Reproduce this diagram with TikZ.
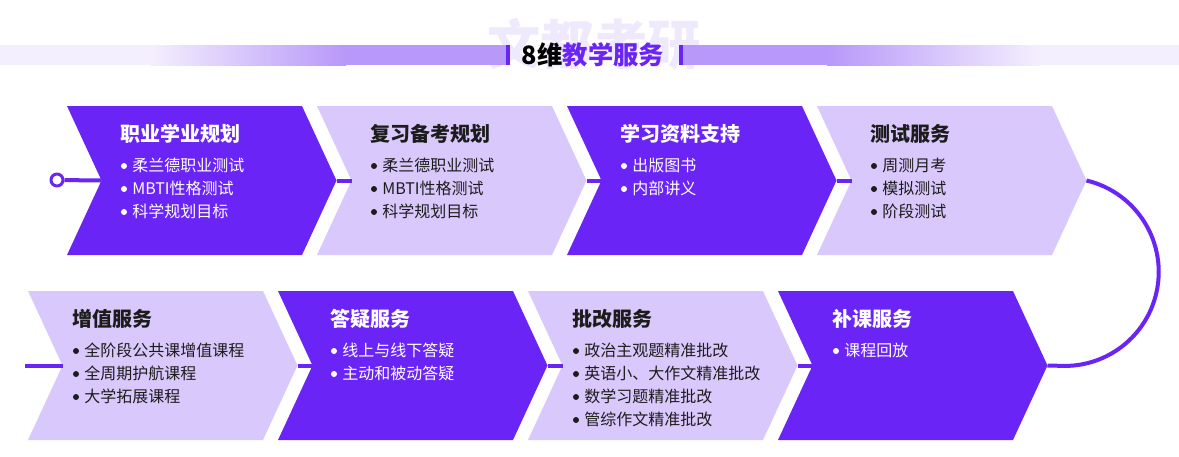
\documentclass[tikz,border=0pt]{standalone}
\usepackage{fontspec}
\setmainfont{Noto Sans CJK SC}
\definecolor{vdark}{HTML}{6A24F6}
\definecolor{vlight}{HTML}{D9C8FB}
\definecolor{bandstrong}{HTML}{B898F9}
\definecolor{bandpale}{HTML}{F4EFFE}
\definecolor{wmark}{HTML}{EFE9FD}
\definecolor{ink}{HTML}{1C1C1C}
\tikzset{
  cardtitle/.style={anchor=west, inner sep=0pt, font=\fontsize{15}{18}\selectfont\bfseries},
  carditem/.style={anchor=west, inner sep=0pt, font=\fontsize{12}{14}\selectfont},
  conn/.style={draw=vdark, line width=3pt},
  ring/.style={circle, draw=vdark, line width=2.25pt, fill=white, minimum size=9pt, inner sep=0pt}
}
\begin{document}
\begin{tikzpicture}[x=0.75pt, y=-0.75pt, line join=round, >=stealth]
	\useasboundingbox (0,0) rectangle (1179,457);
	% name, x0, y top, fill, text colour, title x, title, items
	\def\card#1#2#3#4#5#6#7#8{%
		\fill[#4] (#2,#3) -- ++(235,0) -- ++(34.5,74.5) -- ++(-34.5,74.5) -- ++(-235,0) -- ++(34.5,-74.5) -- cycle;
		\coordinate (#1-tip) at (#2+269.5,#3+74.5);
		\coordinate (#1-notch) at (#2+34.5,#3+74.5);
		\node[cardtitle, text=#5] (#1-t) at (#6,#3+28) {#7};
		\foreach \it [count=\k] in {#8}{
			\fill[#5] (#6+4,#3+37+23*\k) circle (3);
			\node[carditem, text=#5] (#1-i\k) at (#6+12,#3+36+23*\k) {\it};
		}
	}
	% banner
	\node[text=wmark, font=\fontsize{40}{44}\selectfont\bfseries, inner sep=0pt] (wm) at (594,44) {文都考研};
	\fill[bandpale] (0,45) rectangle (150,65);
	\shade[left color=bandpale, right color=bandstrong] (150,45) rectangle (346,65);
	\fill[bandstrong] (346,45) rectangle (506,65);
	\fill[bandstrong] (682,45) rectangle (827,65);
	\shade[left color=bandstrong, right color=bandpale] (827,45) rectangle (1040,65);
	\fill[bandpale] (1040,45) rectangle (1179,65);
	\fill[vdark] (506,45) rectangle (509.5,65);
	\fill[vdark] (679,45) rectangle (682.5,65);
	\node[inner sep=0pt, font=\fontsize{19}{22}\selectfont\bfseries] (head) at (593,55) {\textcolor{black}{8维}\textcolor{vdark}{教学服务}};
	% top row
	\card{s1}{67}{106}{vdark}{white}{120}{职业学业规划}{柔兰德职业测试, MBTI性格测试, 科学规划目标}
	\card{s2}{317}{106}{vlight}{ink}{370}{复习备考规划}{柔兰德职业测试, MBTI性格测试, 科学规划目标}
	\card{s3}{567}{106}{vdark}{white}{620}{学习资料支持}{出版图书, 内部讲义}
	\card{s4}{817}{106}{vlight}{ink}{870}{测试服务}{周测月考, 模拟测试, 阶段测试}
	% bottom row
	\card{b1}{28}{291}{vlight}{ink}{72}{增值服务}{全阶段公共课增值课程, 全周期护航课程, 大学拓展课程}
	\card{b2}{278}{291}{vdark}{white}{330}{答疑服务}{线上与线下答疑, 主动和被动答疑}
	\card{b3}{528}{291}{vlight}{ink}{572}{批改服务}{政治主观题精准批改, 英语小、大作文精准批改, 数学习题精准批改, 管综作文精准批改}
	\card{b4}{778}{291}{vdark}{white}{832}{补课服务}{课程回放}
	% connectors
	\node[ring] (start) at (57,180) {};
	\coordinate (tail) at (25,365.5);
	\draw[conn] (start) -- (s1-notch);
	\draw[conn] (s1-tip) -- (s2-notch);
	\draw[conn] (s2-tip) -- (s3-notch);
	\draw[conn] (s3-tip) -- (s4-notch);
	\draw[conn] (s4-tip) arc[start angle=-76.6, end angle=90, radius=94] -- (b4-tip);
	\draw[conn] (b4-notch) -- (b3-tip);
	\draw[conn] (b3-notch) -- (b2-tip);
	\draw[conn] (b2-notch) -- (b1-tip);
	\draw[conn] (b1-notch) -- (tail);
\end{tikzpicture}
\end{document}
